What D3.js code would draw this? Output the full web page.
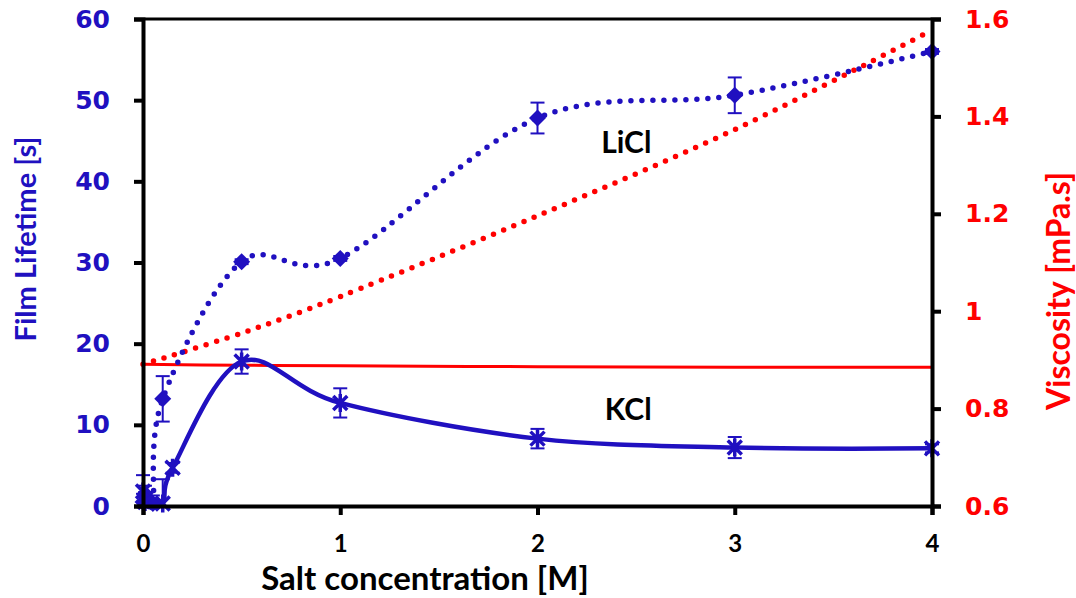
<!DOCTYPE html>
<html>
<head>
<meta charset="utf-8">
<script src="https://cdn.jsdelivr.net/npm/d3@7"></script>
<style>
  body { margin: 0; background: #fff; }
  svg { display: block; }
</style>
</head>
<body>
<svg id="chart" width="1076" height="598"></svg>
<script>
// film lifetime data (s) vs salt concentration (M)
var kclX   = [0, 0.01, 0.1, 0.15, 0.5, 1, 2, 3, 4];
var kclY   = [1.8, 0.5, 0.3, 4.7, 17.8, 12.7, 8.3, 7.2, 7.1];
var kclErr = [2.0, 1.2, 3.0, 0.6, 1.5, 1.8, 1.2, 1.3, 0.5];

var liclX   = [0, 0.01, 0.05, 0.1, 0.5, 1, 2, 3, 4];
var liclY   = [0.5, 1.5, 0.3, 13.2, 30.1, 30.5, 47.8, 50.6, 56.0];
var liclErr = [1.0, 1.0, 1.0, 2.8, 0.3, 0.3, 1.9, 2.2, 0.3];

// viscosity (mPa.s)
var viscX     = [0, 0.5, 1, 2, 3, 4];
var kclVisc   = [0.891, 0.889, 0.888, 0.886, 0.885, 0.885];
var liclVisc  = [0.891, 0.955, 1.03, 1.196, 1.373, 1.577];

var xTicks  = [0, 1, 2, 3, 4];
var yTicks  = [0, 10, 20, 30, 40, 50, 60];
var y2Ticks = [0.6, 0.8, 1, 1.2, 1.4, 1.6];

var blue = "#2010c0", red = "#ff0000";
var svg = d3.select("#chart");

var x  = d3.scaleLinear().domain([0, 4]).range([143, 932]);
var y  = d3.scaleLinear().domain([0, 60]).range([506, 19]);
var y2 = d3.scaleLinear().domain([0.6, 1.6]).range([506, 19]);

function zip(xs, ys, es) {
  return xs.map(function(d, i) { return { x: d, y: ys[i], e: es ? es[i] : 0 }; });
}
var kcl  = zip(kclX, kclY, kclErr);
var licl = zip(liclX, liclY, liclErr);
var kv   = zip(viscX, kclVisc);
var lv   = zip(viscX, liclVisc);

var smooth = d3.curveCardinal.tension(0);
var line1 = d3.line().x(function(d) { return x(d.x); }).y(function(d) { return y(d.y); }).curve(smooth);
var line2 = d3.line().x(function(d) { return x(d.x); }).y(function(d) { return y2(d.y); }).curve(smooth);

// viscosity lines
svg.append("path").attr("d", line2(kv))
  .attr("fill", "none").attr("stroke", red).attr("stroke-width", 3);
svg.append("path").attr("d", line2(lv))
  .attr("fill", "none").attr("stroke", red).attr("stroke-width", 5.5)
  .attr("stroke-dasharray", "0 11").attr("stroke-linecap", "round");

// lifetime lines
svg.append("path").attr("d", line1(licl))
  .attr("fill", "none").attr("stroke", blue).attr("stroke-width", 5.5)
  .attr("stroke-dasharray", "0 11").attr("stroke-linecap", "round");
svg.append("path").attr("d", line1(kcl))
  .attr("fill", "none").attr("stroke", blue).attr("stroke-width", 4.5);

// error bars (clipped at the x axis)
function errBars(data) {
  var g = svg.append("g").attr("stroke", blue).attr("stroke-width", 2);
  data.forEach(function(d) {
    var cx = x(d.x), t = y(d.y + d.e), lo = d.y - d.e, b = y(Math.max(0, lo));
    g.append("line").attr("x1", cx).attr("x2", cx).attr("y1", t).attr("y2", b);
    g.append("line").attr("x1", cx - 7).attr("x2", cx + 7).attr("y1", t).attr("y2", t);
    if (lo >= 0) g.append("line").attr("x1", cx - 7).attr("x2", cx + 7).attr("y1", b).attr("y2", b);
  });
}
errBars(licl);
errBars(kcl);

// markers
svg.append("g").selectAll("path").data(licl).join("path")
  .attr("transform", function(d) { return "translate(" + x(d.x) + "," + y(d.y) + ")"; })
  .attr("d", "M0,-8.5L8.5,0L0,8.5L-8.5,0Z")
  .attr("fill", blue);
svg.append("g").selectAll("path").data(kcl).join("path")
  .attr("transform", function(d) { return "translate(" + x(d.x) + "," + y(d.y) + ")"; })
  .attr("d", "M-7,-7L7,7M-7,7L7,-7M0,-9L0,9")
  .attr("fill", "none").attr("stroke", blue).attr("stroke-width", 3.5);

// axes
var xAxis = svg.append("g").attr("transform", "translate(0,506)")
  .call(d3.axisBottom(x).tickValues(xTicks).tickSize(9).tickPadding(20).tickFormat(d3.format("d")));
var yAxis = svg.append("g").attr("transform", "translate(143,0)")
  .call(d3.axisLeft(y).tickValues(yTicks).tickSize(9).tickPadding(24));
var y2Axis = svg.append("g").attr("transform", "translate(932,0)")
  .call(d3.axisRight(y2).tickValues(y2Ticks).tickSize(9).tickPadding(24).tickFormat(function(d) { return d3.format("")(+d.toFixed(1)); }));

[xAxis, yAxis, y2Axis].forEach(function(a) {
  a.select(".domain").attr("stroke", "#000").attr("stroke-width", 4);
  a.selectAll(".tick line").attr("stroke", "#000").attr("stroke-width", 4);
});
xAxis.selectAll(".tick text").attr("font-family", "Lato").attr("font-weight", "bold").attr("font-size", 24).attr("fill", "#000");
yAxis.selectAll(".tick text").attr("font-family", "DejaVu Sans").attr("font-weight", "bold").attr("font-size", 25).attr("fill", blue);
y2Axis.selectAll(".tick text").attr("font-family", "DejaVu Sans").attr("font-weight", "bold").attr("font-size", 25).attr("fill", red);

// top border
svg.append("line").attr("x1", x(0)).attr("x2", x(4)).attr("y1", y(60)).attr("y2", y(60))
  .attr("stroke", "#000").attr("stroke-width", 3);

// titles
svg.append("text").attr("x", 425).attr("y", 590).attr("text-anchor", "middle")
  .attr("font-family", "Lato").attr("font-weight", "bold").attr("font-size", 33)
  .text("Salt concentration [M]");
svg.append("text").attr("transform", "translate(36,239) rotate(-90)").attr("text-anchor", "middle")
  .attr("font-family", "Lato").attr("font-weight", "bold").attr("font-size", 29).attr("fill", blue)
  .text("Film Lifetime [s]");
svg.append("text").attr("transform", "translate(1070,291) rotate(-90)").attr("text-anchor", "middle")
  .attr("font-family", "Lato").attr("font-weight", "bold").attr("font-size", 32).attr("fill", red)
  .text("Viscosity [mPa.s]");

// series labels
svg.append("text").attr("x", x(2.45)).attr("y", 153).attr("text-anchor", "middle")
  .attr("font-family", "Lato").attr("font-weight", "bold").attr("font-size", 30)
  .text("LiCl");
svg.append("text").attr("x", x(2.46)).attr("y", 420).attr("text-anchor", "middle")
  .attr("font-family", "Lato").attr("font-weight", "bold").attr("font-size", 30)
  .text("KCl");
</script>
</body>
</html>
